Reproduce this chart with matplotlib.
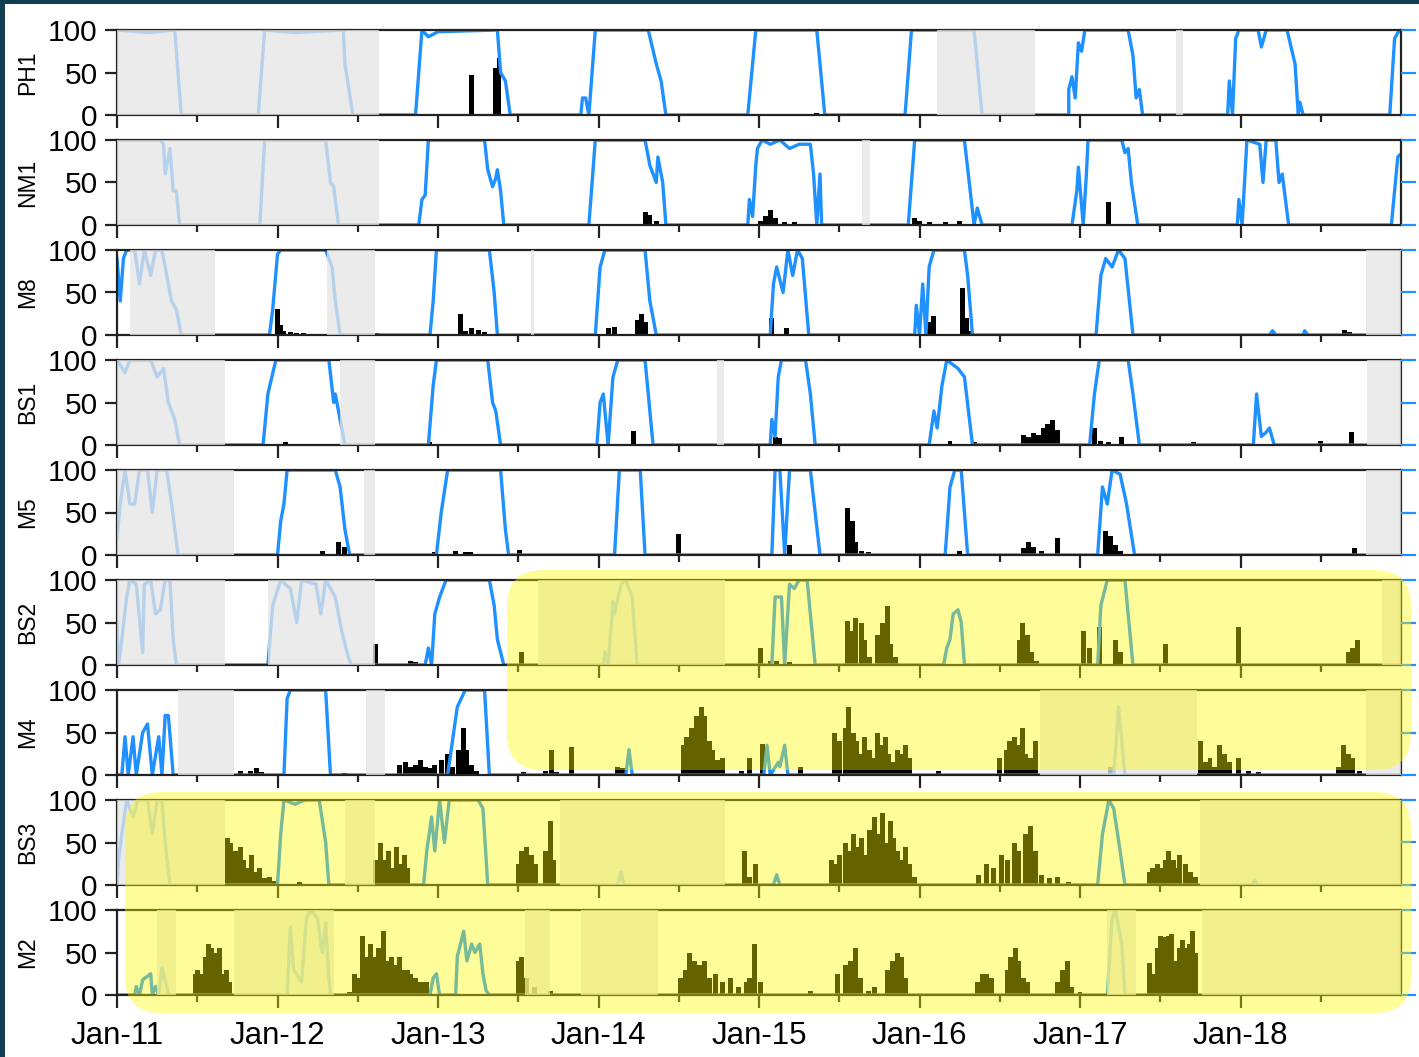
import numpy as np
import matplotlib
matplotlib.use("Agg")
import matplotlib.pyplot as plt
from matplotlib.patches import FancyBboxPatch, Rectangle
from matplotlib.transforms import IdentityTransform

plt.rcParams['font.family'] = ['Liberation Sans', 'DejaVu Sans']

names = ["PH1", "NM1", "M8", "BS1", "M5", "BS2", "M4", "BS3", "M2"]
year_ticks = [2011, 2012, 2013, 2014, 2015, 2016, 2017, 2018]
year_labels = ["Jan-11", "Jan-12", "Jan-13", "Jan-14", "Jan-15", "Jan-16", "Jan-17", "Jan-18"]
y_ticks = [0, 50, 100]

# ice concentration (decimal year, %)
ph1_ice = [(2011.00, 100), (2011.20, 97), (2011.36, 100), (2011.40, 0), (2011.88, 0), (2011.92, 100),
           (2012.10, 97), (2012.41, 100), (2012.42, 60), (2012.47, 0), (2012.86, 0), (2012.90, 100),
           (2012.94, 92), (2013.00, 98), (2013.37, 100), (2013.39, 50), (2013.42, 40), (2013.45, 0),
           (2013.89, 0), (2013.90, 20), (2013.92, 20), (2013.94, 0), (2013.98, 100), (2014.31, 100),
           (2014.36, 60), (2014.39, 40), (2014.42, 0), (2014.93, 0), (2014.98, 100), (2015.36, 100),
           (2015.41, 0), (2015.91, 0), (2015.95, 100), (2016.34, 100), (2016.39, 0), (2016.93, 0),
           (2016.93, 30), (2016.95, 45), (2016.97, 20), (2016.99, 85), (2017.01, 75), (2017.03, 100),
           (2017.30, 100), (2017.33, 70), (2017.35, 20), (2017.37, 30), (2017.39, 0), (2017.92, 0),
           (2017.93, 40), (2017.95, 0), (2017.97, 90), (2017.99, 100), (2018.11, 100), (2018.13, 80),
           (2018.16, 100), (2018.29, 100), (2018.34, 60), (2018.36, 0), (2018.37, 15), (2018.39, 0),
           (2018.93, 0), (2018.96, 90), (2018.99, 100)]
ph1_bars = [(2013.21, 47), (2013.36, 55), (2013.38, 67), (2015.36, 2)]
ph1_gaps = [(2011.00, 2012.63), (2016.11, 2016.72), (2017.60, 2017.64)]

nm1_ice = [(2011.00, 100), (2011.27, 100), (2011.29, 95), (2011.30, 60), (2011.33, 90), (2011.35, 40),
           (2011.37, 40), (2011.39, 0), (2011.89, 0), (2011.92, 100), (2012.30, 100), (2012.33, 50),
           (2012.35, 45), (2012.38, 0), (2012.88, 0), (2012.90, 30), (2012.92, 35), (2012.94, 100),
           (2013.29, 100), (2013.31, 65), (2013.34, 45), (2013.36, 55), (2013.37, 65), (2013.39, 40),
           (2013.41, 0), (2013.94, 0), (2013.98, 100), (2014.29, 100), (2014.32, 70), (2014.36, 50),
           (2014.37, 80), (2014.40, 50), (2014.42, 0), (2014.93, 0), (2014.94, 30), (2014.96, 10),
           (2014.98, 70), (2014.99, 90), (2015.02, 100), (2015.07, 95), (2015.13, 100), (2015.19, 90),
           (2015.25, 95), (2015.32, 95), (2015.34, 60), (2015.36, 0), (2015.38, 60), (2015.39, 0),
           (2015.93, 0), (2015.97, 100), (2016.28, 100), (2016.31, 50), (2016.34, 0), (2016.36, 20),
           (2016.39, 0), (2016.95, 0), (2016.98, 40), (2016.99, 68), (2017.02, 0), (2017.04, 60),
           (2017.05, 100), (2017.26, 100), (2017.28, 85), (2017.30, 90), (2017.32, 50), (2017.36, 0),
           (2017.98, 0), (2017.99, 30), (2018.01, 0), (2018.04, 100), (2018.12, 95), (2018.14, 50),
           (2018.16, 100), (2018.22, 100), (2018.24, 50), (2018.26, 60), (2018.30, 0), (2018.94, 0),
           (2018.98, 80), (2018.99, 82)]
nm1_bars = [(2014.29, 15), (2014.32, 12), (2014.36, 5), (2015.01, 5), (2015.04, 10), (2015.07, 18),
            (2015.10, 8), (2015.16, 4), (2015.22, 3), (2015.97, 8), (2016.00, 5), (2016.06, 3),
            (2016.16, 3), (2016.25, 5), (2017.18, 27)]
nm1_gaps = [(2011.00, 2012.63), (2015.64, 2015.69)]

m8_ice = [(2011.00, 90), (2011.02, 40), (2011.04, 90), (2011.06, 100), (2011.11, 100), (2011.14, 60),
          (2011.17, 100), (2011.21, 70), (2011.24, 100), (2011.28, 100), (2011.32, 60), (2011.34, 40),
          (2011.37, 30), (2011.40, 0), (2011.95, 0), (2011.97, 30), (2012.00, 95), (2012.02, 100),
          (2012.30, 100), (2012.34, 80), (2012.36, 40), (2012.39, 0), (2012.95, 0), (2012.97, 40),
          (2012.99, 100), (2013.32, 100), (2013.35, 50), (2013.37, 0), (2013.98, 0), (2014.01, 80),
          (2014.04, 100), (2014.29, 100), (2014.32, 40), (2014.36, 0), (2015.07, 0), (2015.09, 60),
          (2015.11, 80), (2015.15, 50), (2015.18, 100), (2015.21, 70), (2015.24, 100), (2015.27, 90),
          (2015.31, 0), (2015.97, 0), (2015.98, 35), (2016.00, 0), (2016.02, 60), (2016.04, 0),
          (2016.06, 80), (2016.09, 100), (2016.28, 100), (2016.30, 70), (2016.33, 0), (2017.10, 0),
          (2017.13, 70), (2017.16, 90), (2017.20, 80), (2017.24, 100), (2017.28, 90), (2017.33, 0),
          (2018.18, 0), (2018.20, 5), (2018.22, 0), (2018.39, 0), (2018.40, 5), (2018.42, 0),
          (2019.00, 0)]
m8_bars = [(2012.00, 30), (2012.02, 12), (2012.04, 5), (2012.08, 3), (2012.12, 2), (2012.16, 2),
           (2012.62, 2), (2013.14, 25), (2013.17, 5), (2013.21, 8), (2013.25, 6), (2013.29, 4),
           (2014.06, 8), (2014.10, 10), (2014.24, 18), (2014.27, 25), (2014.29, 15), (2015.08, 20),
           (2015.17, 8), (2016.06, 15), (2016.09, 22), (2016.27, 55), (2016.29, 20), (2016.31, 5),
           (2018.20, 3), (2018.65, 6), (2018.68, 3)]
m8_gaps = [(2011.08, 2011.61), (2012.31, 2012.61), (2013.58, 2013.60), (2018.78, 2019.00)]

bs1_ice = [(2011.00, 100), (2011.05, 85), (2011.08, 100), (2011.21, 100), (2011.25, 80), (2011.29, 90),
           (2011.32, 50), (2011.36, 30), (2011.39, 0), (2011.91, 0), (2011.94, 60), (2011.99, 100),
           (2012.32, 100), (2012.35, 50), (2012.36, 60), (2012.39, 30), (2012.42, 0), (2012.94, 0),
           (2012.97, 70), (2012.99, 100), (2013.31, 100), (2013.34, 50), (2013.36, 40), (2013.39, 0),
           (2013.99, 0), (2014.01, 50), (2014.03, 60), (2014.06, 0), (2014.09, 80), (2014.12, 100),
           (2014.29, 100), (2014.34, 0), (2015.07, 0), (2015.08, 30), (2015.10, 10), (2015.12, 80),
           (2015.14, 100), (2015.29, 100), (2015.32, 60), (2015.35, 0), (2016.06, 0), (2016.09, 40),
           (2016.11, 20), (2016.14, 70), (2016.17, 100), (2016.24, 90), (2016.28, 80), (2016.33, 0),
           (2017.06, 0), (2017.09, 60), (2017.12, 100), (2017.30, 100), (2017.33, 60), (2017.37, 0),
           (2018.08, 0), (2018.10, 60), (2018.13, 10), (2018.16, 15), (2018.18, 20), (2018.21, 0),
           (2019.00, 0)]
bs1_bars = [(2012.05, 3), (2012.95, 4), (2014.22, 17), (2015.10, 10), (2015.13, 8), (2016.19, 5),
            (2016.34, 3), (2016.65, 12), (2016.68, 10), (2016.71, 14), (2016.74, 12), (2016.77, 20),
            (2016.80, 25), (2016.83, 30), (2016.86, 18), (2017.09, 20), (2017.13, 5), (2017.18, 4),
            (2017.26, 10), (2017.71, 3), (2018.50, 5), (2018.69, 15)]
bs1_gaps = [(2011.00, 2011.67), (2012.39, 2012.61), (2014.74, 2014.78), (2018.79, 2019.00)]

m5_ice = [(2011.00, 20), (2011.02, 60), (2011.05, 100), (2011.08, 60), (2011.11, 60), (2011.14, 100),
          (2011.19, 100), (2011.22, 50), (2011.25, 100), (2011.31, 100), (2011.34, 60), (2011.38, 0),
          (2012.00, 0), (2012.02, 40), (2012.04, 60), (2012.06, 100), (2012.36, 100), (2012.39, 80),
          (2012.42, 30), (2012.45, 0), (2012.99, 0), (2013.02, 50), (2013.06, 100), (2013.39, 100),
          (2013.42, 30), (2013.44, 0), (2014.10, 0), (2014.13, 100), (2014.26, 100), (2014.29, 0),
          (2015.08, 0), (2015.10, 100), (2015.13, 100), (2015.16, 0), (2015.19, 100), (2015.25, 100),
          (2015.32, 100), (2015.38, 0), (2016.16, 0), (2016.19, 80), (2016.22, 100), (2016.26, 100),
          (2016.30, 0), (2017.11, 0), (2017.14, 80), (2017.17, 60), (2017.20, 100), (2017.25, 95),
          (2017.29, 60), (2017.34, 0), (2019.00, 0)]
m5_bars = [(2012.28, 5), (2012.38, 15), (2012.42, 10), (2012.98, 4), (2013.11, 5), (2013.17, 3),
           (2013.20, 3), (2013.51, 6), (2014.50, 25), (2015.19, 12), (2015.55, 55), (2015.58, 40),
           (2015.60, 15), (2015.64, 5), (2015.68, 3), (2016.25, 5), (2016.65, 8), (2016.68, 15),
           (2016.71, 10), (2016.76, 5), (2016.86, 20), (2017.16, 28), (2017.19, 22), (2017.22, 12),
           (2017.25, 5), (2018.71, 8)]
m5_gaps = [(2011.00, 2011.73), (2012.54, 2012.61), (2018.78, 2019.00)]

bs2_ice = [(2011.00, 50), (2011.01, 0), (2011.03, 30), (2011.06, 80), (2011.08, 100), (2011.12, 95),
           (2011.16, 15), (2011.17, 95), (2011.21, 100), (2011.24, 60), (2011.27, 65), (2011.30, 100),
           (2011.33, 100), (2011.35, 30), (2011.37, 0), (2011.94, 0), (2011.97, 70), (2012.02, 100),
           (2012.08, 90), (2012.12, 50), (2012.15, 100), (2012.24, 95), (2012.27, 60), (2012.30, 100),
           (2012.36, 80), (2012.40, 40), (2012.44, 10), (2012.46, 0), (2012.92, 0), (2012.94, 20),
           (2012.96, 0), (2012.98, 60), (2013.01, 80), (2013.05, 100), (2013.32, 100), (2013.35, 70),
           (2013.37, 30), (2013.41, 0), (2014.03, 0), (2014.04, 15), (2014.06, 0), (2014.09, 75),
           (2014.10, 60), (2014.14, 95), (2014.17, 100), (2014.21, 80), (2014.24, 0), (2015.08, 0),
           (2015.10, 80), (2015.14, 80), (2015.16, 0), (2015.19, 95), (2015.22, 90), (2015.25, 100),
           (2015.30, 100), (2015.35, 0), (2016.15, 0), (2016.17, 20), (2016.19, 30), (2016.21, 60),
           (2016.24, 65), (2016.26, 50), (2016.28, 0), (2017.11, 0), (2017.13, 70), (2017.15, 85),
           (2017.17, 100), (2017.28, 100), (2017.33, 0), (2019.00, 0)]
bs2_bars = [(2012.61, 25), (2012.83, 5), (2012.86, 3), (2013.52, 15), (2015.01, 20), (2015.07, 5),
            (2015.11, 5), (2015.19, 4), (2015.55, 52), (2015.58, 40), (2015.60, 55), (2015.64, 50),
            (2015.66, 30), (2015.69, 10), (2015.74, 35), (2015.77, 50), (2015.80, 70), (2015.82, 25),
            (2015.85, 10), (2016.62, 30), (2016.64, 50), (2016.67, 35), (2016.70, 15), (2016.73, 5),
            (2017.02, 40), (2017.06, 20), (2017.12, 45), (2017.22, 30), (2017.25, 15), (2017.53, 25),
            (2017.99, 45), (2018.67, 15), (2018.70, 20), (2018.73, 30)]
bs2_gaps = [(2011.00, 2011.67), (2011.94, 2012.61), (2013.62, 2014.79), (2018.88, 2019.00)]

m4_ice = [(2011.00, 0), (2011.03, 0), (2011.05, 45), (2011.07, 0), (2011.10, 45), (2011.12, 0),
          (2011.16, 50), (2011.19, 60), (2011.22, 0), (2011.26, 45), (2011.28, 0), (2011.30, 70),
          (2011.32, 70), (2011.35, 0), (2012.04, 0), (2012.06, 90), (2012.08, 100), (2012.30, 100),
          (2012.33, 0), (2013.06, 0), (2013.09, 40), (2013.12, 80), (2013.17, 100), (2013.29, 100),
          (2013.32, 0), (2014.17, 0), (2014.19, 30), (2014.21, 0), (2015.03, 0), (2015.05, 35),
          (2015.07, 0), (2015.12, 15), (2015.13, 10), (2015.16, 35), (2015.18, 0), (2017.21, 0),
          (2017.24, 80), (2017.28, 0), (2019.00, 0)]
m4_bars = [(2011.77, 5), (2011.83, 5), (2011.87, 8), (2011.90, 3), (2012.42, 2), (2012.76, 12),
           (2012.80, 15), (2012.83, 10), (2012.86, 12), (2012.89, 18), (2012.92, 10), (2012.95, 8),
           (2012.98, 12), (2013.02, 18), (2013.06, 25), (2013.09, 10), (2013.13, 30), (2013.16, 55),
           (2013.18, 30), (2013.21, 12), (2013.24, 5), (2013.53, 4), (2013.67, 5), (2013.71, 30),
           (2013.74, 3), (2013.83, 33), (2014.12, 10), (2014.15, 8), (2014.53, 35), (2014.55, 45),
           (2014.58, 55), (2014.61, 70), (2014.64, 80), (2014.66, 70), (2014.69, 40), (2014.71, 30),
           (2014.74, 18), (2014.77, 20), (2014.89, 5), (2014.94, 20), (2015.02, 36), (2015.26, 10),
           (2015.47, 50), (2015.50, 40), (2015.54, 55), (2015.56, 80), (2015.59, 50), (2015.61, 40),
           (2015.64, 25), (2015.66, 45), (2015.69, 30), (2015.71, 20), (2015.74, 50), (2015.76, 35),
           (2015.79, 45), (2015.81, 25), (2015.84, 15), (2015.86, 30), (2015.88, 25), (2015.91, 35),
           (2015.94, 20), (2016.12, 5), (2016.50, 20), (2016.54, 30), (2016.56, 40), (2016.59, 45),
           (2016.61, 35), (2016.64, 55), (2016.66, 25), (2016.69, 20), (2016.72, 40), (2017.19, 10),
           (2017.75, 40), (2017.78, 15), (2017.81, 20), (2017.84, 10), (2017.87, 35), (2017.90, 25),
           (2017.93, 15), (2017.99, 20), (2018.05, 5), (2018.11, 3), (2018.61, 10), (2018.64, 35),
           (2018.67, 25), (2018.70, 20), (2018.74, 5)]
m4_gaps = [(2011.38, 2011.73), (2012.55, 2012.67), (2016.75, 2017.73), (2018.78, 2019.00)]

bs3_ice = [(2011.00, 0), (2011.01, 30), (2011.03, 60), (2011.06, 100), (2011.10, 80), (2011.13, 100),
           (2011.19, 100), (2011.22, 60), (2011.25, 100), (2011.28, 100), (2011.30, 50), (2011.33, 0),
           (2012.00, 0), (2012.02, 60), (2012.04, 100), (2012.11, 95), (2012.17, 100), (2012.26, 100),
           (2012.30, 50), (2012.32, 0), (2012.91, 0), (2012.93, 40), (2012.96, 80), (2012.98, 40),
           (2013.01, 100), (2013.04, 50), (2013.07, 100), (2013.17, 100), (2013.25, 100), (2013.28, 90),
           (2013.31, 0), (2014.12, 0), (2014.14, 15), (2014.16, 0), (2015.09, 0), (2015.11, 12),
           (2015.13, 0), (2017.11, 0), (2017.14, 60), (2017.18, 100), (2017.21, 90), (2017.25, 40),
           (2017.28, 0), (2018.07, 0), (2018.09, 5), (2018.11, 0), (2019.00, 0)]
bs3_bars = [(2011.69, 55), (2011.71, 50), (2011.74, 40), (2011.77, 45), (2011.79, 30), (2011.82, 20),
            (2011.84, 35), (2011.87, 15), (2011.89, 20), (2011.92, 8), (2011.95, 10), (2011.98, 5),
            (2012.14, 4), (2012.61, 30), (2012.64, 50), (2012.66, 30), (2012.69, 40), (2012.71, 20),
            (2012.74, 45), (2012.76, 25), (2012.79, 35), (2012.81, 20), (2013.50, 25), (2013.52, 40),
            (2013.55, 45), (2013.58, 35), (2013.61, 25), (2013.67, 40), (2013.70, 75), (2013.72, 30),
            (2014.91, 40), (2014.94, 10), (2014.98, 25), (2015.45, 30), (2015.47, 25), (2015.50, 35),
            (2015.54, 50), (2015.57, 40), (2015.59, 60), (2015.62, 45), (2015.64, 55), (2015.67, 35),
            (2015.69, 65), (2015.72, 80), (2015.74, 60), (2015.77, 85), (2015.79, 50), (2015.82, 75),
            (2015.84, 55), (2015.86, 40), (2015.89, 30), (2015.91, 45), (2015.94, 25), (2015.97, 10),
            (2016.37, 12), (2016.42, 25), (2016.46, 20), (2016.51, 35), (2016.55, 30), (2016.59, 50),
            (2016.62, 40), (2016.66, 60), (2016.69, 70), (2016.72, 40), (2016.76, 12), (2016.81, 8),
            (2016.86, 10), (2016.93, 3), (2017.43, 15), (2017.45, 20), (2017.48, 25), (2017.50, 20),
            (2017.53, 30), (2017.55, 40), (2017.58, 30), (2017.60, 20), (2017.62, 35), (2017.66, 25),
            (2017.69, 15), (2017.72, 10)]
bs3_gaps = [(2011.00, 2011.67), (2012.42, 2012.61), (2013.76, 2014.79), (2017.75, 2019.00)]

m2_ice = [(2011.00, 0), (2011.11, 0), (2011.12, 10), (2011.14, 0), (2011.16, 18), (2011.19, 22),
          (2011.21, 25), (2011.22, 0), (2011.24, 10), (2011.26, 0), (2011.28, 32), (2011.31, 10),
          (2011.32, 0), (2012.06, 0), (2012.08, 80), (2012.10, 30), (2012.15, 15), (2012.18, 90),
          (2012.21, 100), (2012.25, 90), (2012.27, 60), (2012.28, 50), (2012.30, 85), (2012.32, 20),
          (2012.33, 0), (2012.95, 0), (2012.97, 20), (2012.99, 25), (2013.01, 0), (2013.11, 0),
          (2013.12, 45), (2013.16, 75), (2013.18, 40), (2013.21, 60), (2013.23, 50), (2013.26, 60),
          (2013.28, 25), (2013.30, 5), (2013.32, 0), (2017.17, 0), (2017.20, 90), (2017.22, 100),
          (2017.26, 60), (2017.28, 0), (2019.00, 0)]
m2_bars = [(2011.49, 25), (2011.50, 30), (2011.53, 25), (2011.55, 45), (2011.57, 60), (2011.59, 55),
           (2011.61, 50), (2011.64, 55), (2011.65, 25), (2011.68, 30), (2011.70, 15), (2012.45, 3),
           (2012.48, 25), (2012.51, 20), (2012.53, 70), (2012.56, 45), (2012.58, 60), (2012.61, 45),
           (2012.63, 55), (2012.66, 75), (2012.68, 40), (2012.71, 45), (2012.73, 35), (2012.76, 45),
           (2012.78, 30), (2012.81, 30), (2012.83, 25), (2012.86, 20), (2012.88, 15), (2012.91, 15),
           (2012.93, 15), (2013.50, 40), (2013.52, 45), (2013.55, 20), (2013.60, 10), (2013.70, 5),
           (2014.51, 20), (2014.54, 30), (2014.57, 50), (2014.60, 40), (2014.63, 35), (2014.66, 40),
           (2014.69, 20), (2014.73, 25), (2014.77, 15), (2014.82, 20), (2014.87, 10), (2014.92, 15),
           (2014.94, 20), (2014.97, 60), (2015.01, 15), (2015.32, 5), (2015.49, 25), (2015.54, 35),
           (2015.57, 40), (2015.60, 55), (2015.63, 20), (2015.68, 5), (2015.72, 10), (2015.80, 30),
           (2015.83, 40), (2015.86, 50), (2015.89, 45), (2015.91, 20), (2016.36, 15), (2016.39, 25),
           (2016.42, 25), (2016.45, 20), (2016.55, 30), (2016.57, 45), (2016.60, 55), (2016.62, 40),
           (2016.65, 20), (2016.67, 15), (2016.86, 15), (2016.89, 30), (2016.92, 40), (2016.95, 10),
           (2017.00, 3), (2017.43, 38), (2017.45, 25), (2017.48, 55), (2017.50, 70), (2017.52, 68),
           (2017.55, 70), (2017.57, 72), (2017.59, 40), (2017.62, 55), (2017.64, 65), (2017.66, 55),
           (2017.68, 60), (2017.70, 75), (2017.72, 50)]
m2_gaps = [(2011.25, 2011.37), (2011.73, 2012.35), (2013.54, 2013.70), (2013.89, 2014.37),
           (2017.17, 2017.35), (2017.76, 2019.00)]

panels = [(ph1_ice, ph1_bars, ph1_gaps), (nm1_ice, nm1_bars, nm1_gaps), (m8_ice, m8_bars, m8_gaps),
          (bs1_ice, bs1_bars, bs1_gaps), (m5_ice, m5_bars, m5_gaps), (bs2_ice, bs2_bars, bs2_gaps),
          (m4_ice, m4_bars, m4_gaps), (bs3_ice, bs3_bars, bs3_gaps), (m2_ice, m2_bars, m2_gaps)]

W, H = 1419, 1057
fig = plt.figure(figsize=(W / 100, H / 100), dpi=100)
fig.patch.set_facecolor('#123e52')
fig.add_artist(Rectangle((5, 0), W, H - 4, transform=IdentityTransform(),
                         facecolor='white', edgecolor='none', zorder=-5))

blue = '#1e90ff'
left, right = 117, 1401
for i, (name, (ice, bars, gaps)) in enumerate(zip(names, panels)):
    top = 30 + 110 * i
    ax = fig.add_axes([left / W, 1 - (top + 85) / H, (right - left) / W, 85 / H])
    t, v = zip(*ice)
    ax.plot(t, v, color=blue, lw=2.4, zorder=2, solid_joinstyle='round')
    bt, bh = zip(*bars)
    ax.bar(bt, bh, width=0.031, color='black', zorder=1.5, linewidth=0)
    for g0, g1 in gaps:
        ax.axvspan(g0, g1, color='#e5e5e5', alpha=0.77, lw=0, zorder=3)
    ax.set_xlim(2011, 2019)
    ax.set_ylim(0, 100)
    ax.set_yticks(y_ticks)
    ax.set_xticks(year_ticks)
    ax.set_xticks([y + 0.5 for y in year_ticks], minor=True)
    ax.tick_params(axis='both', which='major', length=9, width=1.6, labelsize=21.5, pad=5, color='#222222')
    ax.tick_params(axis='x', which='minor', length=5, width=1.6, color='#222222')
    ax.set_ylabel(name, fontsize=16.5, labelpad=6)
    if i == len(names) - 1:
        ax.set_xticklabels(year_labels, fontsize=22.5)
        ax.tick_params(axis='x', which='major', pad=10)
    else:
        ax.tick_params(axis='x', labelbottom=False)
    for s in ax.spines.values():
        s.set_linewidth(1.6)
        s.set_color('#222222')
    ax2 = ax.twinx()
    ax2.set_ylim(0, 100)
    ax2.set_yticks(y_ticks)
    ax2.tick_params(axis='y', length=11, width=1.6, color=blue, labelright=False)
    for s in ax2.spines.values():
        s.set_visible(False)

# highlight boxes
for x0, y0, x1, y1 in [(507, 570, 1411, 770), (125, 792, 1411, 1013)]:
    fig.add_artist(FancyBboxPatch((x0, H - y1), x1 - x0, y1 - y0,
                                  boxstyle="round,pad=0,rounding_size=36",
                                  transform=IdentityTransform(), facecolor='#fffa00',
                                  edgecolor='none', alpha=0.4, zorder=10))

fig.savefig('out.png', dpi=100, facecolor=fig.get_facecolor())
